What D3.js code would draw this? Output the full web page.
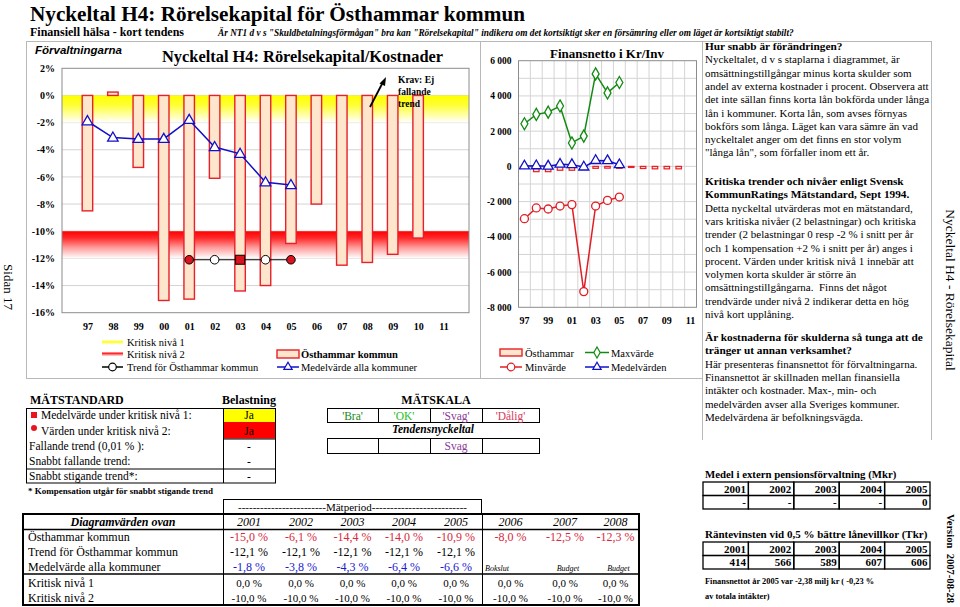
<!DOCTYPE html>
<html>
<head>
<meta charset="utf-8">
<script src="https://cdn.jsdelivr.net/npm/d3@7/dist/d3.min.js"></script>
<style>
html,body{margin:0;padding:0;background:#fff;}
svg{display:block;}
</style>
</head>
<body>
<script>
// ---------------- DATA ----------------
const years = ["97","98","99","00","01","02","03","04","05","06","07","08","09","10","11"];
const rorelsekapital = [-8.5, 0.25, -5.3, -15.1, -15.0, -6.1, -14.4, -14.0, -10.9, -8.0, -12.5, -12.3, -11.7, -10.5, null];
const medelAllaKommuner = [-1.9, -3.1, -3.2, -3.2, -1.8, -3.8, -4.3, -6.4, -6.6, null, null, null, null, null, null];
const trendOsthammar = [null, null, null, null, -12.1, -12.1, -12.1, -12.1, -12.1, null, null, null, null, null, null];
const trendBelastning = [null, null, null, null, "niva2", "ingen", "niva1", "ingen", "niva2", null, null, null, null, null, null];
const kritiskNiva1 = 0;
const kritiskNiva2 = -10;
const pctTicks = [2, 0, -2, -4, -6, -8, -10, -12, -14, -16];

const finOsthammar = [-30, -300, -300, -220, -220, -160, -110, -100, -110, -60, -120, -140, -140, -140, null];
const finMax = [2420, 2950, 3080, 3430, 1330, 1720, 5250, 4170, 4760, null, null, null, null, null, null];
const finMin = [-2970, -2360, -2420, -2250, -2170, -7110, -2250, -1930, -1740, null, null, null, null, null, null];
const finMedel = [20, 30, 10, 120, 100, -40, 330, 320, 90, null, null, null, null, null, null];
const finTicks = [6000, 4000, 2000, 0, -2000, -4000, -6000, -8000];
const finLabelYears = ["97","99","01","03","05","07","09","11"];

const tableYears = ["2001","2002","2003","2004","2005","2006","2007","2008"];
const tableTypes = ["Bokslut","Budget","Budget"];
const pensionYears = ["2001","2002","2003","2004","2005"];
const pensionMedel = ["-","-","-","-","0"];
const rantevinst = [414, 566, 589, 607, 606];
const skalaLabels = ["'Bra'","'OK'","'Svag'","'Dålig'"];
const tendens = ["", "", "Svag", ""];
const matstandardRows = ["Medelvärde under kritisk nivå 1:", "Värden under kritisk nivå 2:", "Fallande trend (0,01 % ):", "Snabbt fallande trend:", "Snabbt stigande trend*:"];
const belastning = ["Ja", "Ja", "-", "-", "-"];

// ---------------- SETUP ----------------
const SERIF = '"Liberation Serif","Times New Roman",serif';
const SANS = '"Liberation Sans",Arial,sans-serif';
const svg = d3.select("body").append("svg").attr("width", 960).attr("height", 607);
const defs = svg.append("defs");
function vgrad(id, stops) {
  const g = defs.append("linearGradient").attr("id", id).attr("x1", 0).attr("y1", 0).attr("x2", 0).attr("y2", 1);
  stops.forEach(s => g.append("stop").attr("offset", s[0]).attr("stop-color", s[1]));
}
vgrad("gY", [[0, "#ffff00"], [0.35, "#ffff33"], [1, "#ffffff"]]);
vgrad("gR", [[0, "#ff0000"], [0.25, "#ff2a2a"], [0.6, "#ff9a9a"], [1, "#ffffff"]]);

function txt(x, y, s, o = {}) {
  const t = svg.append("text").attr("x", x).attr("y", y).text(s)
    .attr("font-family", o.family || SERIF)
    .attr("font-size", o.size || 12)
    .attr("font-weight", o.bold ? "bold" : "normal")
    .attr("font-style", o.italic ? "italic" : "normal")
    .attr("fill", o.fill || "#000")
    .attr("text-anchor", o.anchor || "start");
  if (o.rotate) t.attr("transform", `rotate(${o.rotate},${x},${y})`);
  return t;
}
function line(x1, y1, x2, y2, c, w) {
  return svg.append("line").attr("x1", x1).attr("y1", y1).attr("x2", x2).attr("y2", y2)
    .attr("stroke", c || "#000").attr("stroke-width", w || 1);
}
const fmtPct = v => d3.format(".1f")(v).replace(".", ",").replace("−", "-") + " %";
const loc = d3.formatLocale({decimal: ",", thousands: " ", grouping: [3], currency: ["", ""], minus: "-"});
const fmtKr = loc.format(",");

// ---------------- HEADER ----------------
txt(30, 21, "Nyckeltal H4: Rörelsekapital för Östhammar kommun", {size: 21.2, bold: true});
txt(30, 36, "Finansiell hälsa - kort tendens", {size: 12, bold: true});
txt(218, 36, "Är NT1 d v s \"Skuldbetalningsförmågan\" bra kan \"Rörelsekapital\" indikera om det kortsiktigt sker en försämring eller om läget är kortsiktigt stabilt?", {size: 9.3, bold: true, italic: true});

// frames
const FR = "#b8b8b8";
line(26, 41.5, 932, 41.5, FR);
line(26.5, 41, 26.5, 378, FR);
line(26, 378.5, 702, 378.5, FR);
line(480.5, 41, 480.5, 378, FR);
line(702.5, 41, 702.5, 440, FR);
line(931.5, 41, 931.5, 440, FR);

// rotated side texts
txt(4, 287, "Sidan 17", {size: 13, anchor: "middle", rotate: 90});
txt(946, 290, "Nyckeltal H4 - Rörelsekapital", {size: 13.5, anchor: "middle", rotate: 90});
txt(947, 514, "Version  2007-08-28", {size: 10.6, bold: true, rotate: 90}).attr("xml:space", "preserve");

// ---------------- LEFT CHART ----------------
const L = {x0: 62, x1: 469, y0: 68.3, y1: 312.7};
const xL = d3.scalePoint().domain(years).range([L.x0, L.x1]).padding(1);
const yL = d3.scaleLinear().domain([-16, 2]).range([L.y1, L.y0]);

txt(35, 54, "Förvaltningarna", {family: SANS, size: 11.5, bold: true, italic: true});
txt(162, 62, "Nyckeltal H4: Rörelsekapital/Kostnader", {size: 16.4, bold: true});

svg.append("rect").attr("x", L.x0).attr("y", L.y0).attr("width", L.x1 - L.x0).attr("height", L.y1 - L.y0).attr("fill", "#fff");
const gL = svg.append("g");
gL.selectAll("line.grid").data(pctTicks.filter(d => d > -16 && d < 2)).enter().append("line")
  .attr("x1", L.x0).attr("x2", L.x1).attr("y1", d => yL(d)).attr("y2", d => yL(d))
  .attr("stroke", "#d4d4d4").attr("stroke-width", 1);
gL.append("rect").attr("x", L.x0).attr("width", L.x1 - L.x0)
  .attr("y", yL(kritiskNiva1)).attr("height", yL(kritiskNiva1 - 2) - yL(kritiskNiva1)).attr("fill", "url(#gY)");
gL.append("rect").attr("x", L.x0).attr("width", L.x1 - L.x0)
  .attr("y", yL(kritiskNiva2)).attr("height", yL(kritiskNiva2 - 2) - yL(kritiskNiva2)).attr("fill", "url(#gR)");
svg.append("rect").attr("x", L.x0).attr("y", L.y0).attr("width", L.x1 - L.x0).attr("height", L.y1 - L.y0)
  .attr("fill", "none").attr("stroke", "#8c8c8c").attr("stroke-width", 1);

const barW = 10.5;
gL.selectAll("rect.bar").data(years.map((y, i) => ({y, v: rorelsekapital[i]})).filter(d => d.v != null))
  .enter().append("rect")
  .attr("x", d => xL(d.y) - barW / 2).attr("width", barW)
  .attr("y", d => yL(Math.max(d.v, 0))).attr("height", d => Math.abs(yL(d.v) - yL(0)))
  .attr("fill", "#fde6cc").attr("stroke", "#e8202a").attr("stroke-width", 1.4);

const medelPts = years.map((y, i) => ({y, v: medelAllaKommuner[i]})).filter(d => d.v != null);
gL.append("path").datum(medelPts)
  .attr("d", d3.line().x(d => xL(d.y)).y(d => yL(d.v)))
  .attr("fill", "none").attr("stroke", "#1010c8").attr("stroke-width", 1.5);
gL.selectAll("path.tri").data(medelPts).enter().append("path")
  .attr("d", d3.symbol(d3.symbolTriangle, 48))
  .attr("transform", d => `translate(${xL(d.y)},${yL(d.v) + 0.5})`)
  .attr("fill", "#fff").attr("stroke", "#1010c8").attr("stroke-width", 1.3);

const trendPts = years.map((y, i) => ({y, v: trendOsthammar[i], k: trendBelastning[i]})).filter(d => d.v != null);
gL.append("path").datum(trendPts)
  .attr("d", d3.line().x(d => xL(d.y)).y(d => yL(d.v)))
  .attr("fill", "none").attr("stroke", "#000").attr("stroke-width", 1.2);
trendPts.forEach(d => {
  if (d.k === "niva1") {
    gL.append("rect").attr("x", xL(d.y) - 4.5).attr("y", yL(d.v) - 4.5).attr("width", 9).attr("height", 9)
      .attr("fill", "#d8141e").attr("stroke", "#000").attr("stroke-width", 1);
  } else {
    gL.append("circle").attr("cx", xL(d.y)).attr("cy", yL(d.v)).attr("r", 4.3)
      .attr("fill", d.k === "niva2" ? "#d8141e" : "#fff").attr("stroke", "#000").attr("stroke-width", 1);
  }
});

// axes
const axL = svg.append("g").attr("transform", `translate(${L.x0},0)`)
  .call(d3.axisLeft(yL).tickValues(pctTicks).tickSize(0).tickPadding(7).tickFormat(d => d3.format("d")(d).replace("−", "-") + "%"));
axL.select(".domain").remove();
axL.selectAll("text").attr("font-family", SERIF).attr("font-size", 10).attr("font-weight", "bold");
const axLb = svg.append("g").attr("transform", `translate(0,${L.y1})`)
  .call(d3.axisBottom(xL).tickSize(0).tickPadding(10));
axLb.select(".domain").remove();
axLb.selectAll("text").attr("font-family", SERIF).attr("font-size", 10).attr("font-weight", "bold");

// annotation
txt(398, 83, "Krav: Ej", {size: 9.5, bold: true});
txt(398, 95, "fallande", {size: 9.5, bold: true});
txt(398, 107, "trend", {size: 9.5, bold: true});
line(370, 107, 382, 84, "#000", 1.8);
svg.append("path").attr("d", "M386,77 L379.5,83.5 L385,86 Z").attr("fill", "#000");

// legend left
svg.append("line").attr("x1", 102).attr("x2", 123).attr("y1", 342).attr("y2", 342).attr("stroke", "#ffff40").attr("stroke-width", 3);
txt(127, 345.5, "Kritisk nivå 1", {size: 10.5});
svg.append("rect").attr("x", 102).attr("y", 352.5).attr("width", 21).attr("height", 4).attr("fill", "url(#gR)");
txt(127, 358, "Kritisk nivå 2", {size: 10.5});
line(102, 367, 123, 367, "#000", 1.5);
svg.append("circle").attr("cx", 112.5).attr("cy", 367).attr("r", 3.8).attr("fill", "#fff").attr("stroke", "#000").attr("stroke-width", 1.2);
txt(127, 370.5, "Trend för Östhammar kommun", {size: 10.5});
svg.append("rect").attr("x", 277).attr("y", 350).attr("width", 22).attr("height", 8).attr("fill", "#fde6cc").attr("stroke", "#e8202a").attr("stroke-width", 1.4);
txt(301, 358, "Östhammar kommun", {size: 10.5, bold: true});
line(277, 367, 299, 367, "#1010c8", 1.5);
svg.append("path").attr("d", d3.symbol(d3.symbolTriangle, 30)).attr("transform", "translate(288,367)").attr("fill", "#fff").attr("stroke", "#1010c8").attr("stroke-width", 1.2);
txt(301, 370.5, "Medelvärde alla kommuner", {size: 10.5});

// ---------------- RIGHT CHART ----------------
const R = {x0: 518.5, x1: 696.5, y0: 60.7, y1: 307.3};
const xR = d3.scaleBand().domain(years).range([R.x0, R.x1]);
const yR = d3.scaleLinear().domain([-8000, 6000]).range([R.y1, R.y0]);
txt(607, 58, "Finansnetto i Kr/Inv", {size: 13, bold: true, anchor: "middle"});
svg.append("rect").attr("x", R.x0).attr("y", R.y0).attr("width", R.x1 - R.x0).attr("height", R.y1 - R.y0).attr("fill", "#fff");
const gR = svg.append("g");
gR.selectAll("line.hg").data(d3.range(-7000, 6000, 1000)).enter().append("line")
  .attr("x1", R.x0).attr("x2", R.x1).attr("y1", d => yR(d)).attr("y2", d => yR(d))
  .attr("stroke", "#d4d4d4");
gR.selectAll("line.vg").data(years.slice(1)).enter().append("line")
  .attr("x1", d => xR(d)).attr("x2", d => xR(d)).attr("y1", R.y0).attr("y2", R.y1)
  .attr("stroke", "#d4d4d4");
svg.append("rect").attr("x", R.x0).attr("y", R.y0).attr("width", R.x1 - R.x0).attr("height", R.y1 - R.y0)
  .attr("fill", "none").attr("stroke", "#8c8c8c");
const bw = 5.5;
gR.selectAll("rect.b").data(years.map((y, i) => ({y, v: finOsthammar[i]})).filter(d => d.v != null))
  .enter().append("rect")
  .attr("x", d => xR(d.y) + xR.bandwidth() / 2 - bw / 2).attr("width", bw)
  .attr("y", d => yR(Math.max(0, d.v))).attr("height", d => Math.abs(yR(d.v) - yR(0)))
  .attr("fill", "#fde6cc").attr("stroke", "#e8202a").attr("stroke-width", 1.2);
function series(vals, color, sym, size) {
  const pts = years.map((y, i) => ({y, v: vals[i]})).filter(d => d.v != null);
  const cx = d => xR(d.y) + xR.bandwidth() / 2;
  gR.append("path").datum(pts).attr("d", d3.line().x(cx).y(d => yR(d.v)))
    .attr("fill", "none").attr("stroke", color).attr("stroke-width", 1.5);
  gR.selectAll(null).data(pts).enter().append("path")
    .attr("d", d3.symbol(sym, size))
    .attr("transform", d => `translate(${cx(d)},${yR(d.v)})`)
    .attr("fill", "#fff").attr("stroke", color).attr("stroke-width", 1.3);
}
series(finMax, "#108a10", d3.symbolDiamond, 42);
series(finMin, "#e01e26", d3.symbolCircle, 50);
series(finMedel, "#1010c8", d3.symbolTriangle, 44);

const axR = svg.append("g").attr("transform", `translate(${R.x0},0)`)
  .call(d3.axisLeft(yR).tickValues(finTicks).tickSize(0).tickPadding(7).tickFormat(fmtKr));
axR.select(".domain").remove();
axR.selectAll("text").attr("font-family", SERIF).attr("font-size", 9.5).attr("font-weight", "bold");
const axRb = svg.append("g").attr("transform", `translate(0,${R.y1})`)
  .call(d3.axisBottom(xR).tickValues(finLabelYears).tickSize(0).tickPadding(10));
axRb.select(".domain").remove();
axRb.selectAll("text").attr("font-family", SERIF).attr("font-size", 10).attr("font-weight", "bold");

// legend right
svg.append("rect").attr("x", 500).attr("y", 349).attr("width", 22).attr("height", 7).attr("fill", "#fde6cc").attr("stroke", "#e8202a").attr("stroke-width", 1.4);
txt(525, 356.5, "Östhammar", {size: 10.5});
line(585, 352.5, 609, 352.5, "#108a10", 1.5);
svg.append("path").attr("d", d3.symbol(d3.symbolDiamond, 34)).attr("transform", "translate(597,352.5)").attr("fill", "#fff").attr("stroke", "#108a10").attr("stroke-width", 1.2);
txt(611, 356.5, "Maxvärde", {size: 10.5});
line(500, 367, 522, 367, "#e01e26", 1.5);
svg.append("circle").attr("cx", 511).attr("cy", 367).attr("r", 3.8).attr("fill", "#fff").attr("stroke", "#e01e26").attr("stroke-width", 1.2);
txt(525, 370.5, "Minvärde", {size: 10.5});
line(585, 367, 609, 367, "#1010c8", 1.5);
svg.append("path").attr("d", d3.symbol(d3.symbolTriangle, 30)).attr("transform", "translate(597,367)").attr("fill", "#fff").attr("stroke", "#1010c8").attr("stroke-width", 1.2);
txt(611, 370.5, "Medelvärden", {size: 10.5});

// ---------------- RIGHT TEXT ----------------
const LH = 13.3;
const para1 = ["Nyckeltalet, d v s staplarna i diagrammet, är", "omsättningstillgångar minus korta skulder som", "andel av externa kostnader i procent. Observera att", "det inte sällan finns korta lån bokförda under långa", "lån i kommuner. Korta lån, som avses förnyas", "bokförs som långa. Läget kan vara sämre än vad", "nyckeltalet anger om det finns en stor volym", "\"långa lån\", som förfaller inom ett år."];
const para2 = ["Detta nyckeltal utvärderas mot en mätstandard,", "vars kritiska nivåer (2 belastningar) och kritiska", "trender (2 belastningar 0 resp -2 % i snitt per år", "och 1 kompensation +2 % i snitt per år) anges i", "procent. Värden under kritisk nivå 1 innebär att", "volymen korta skulder är större än", "omsättningstillgångarna.  Finns det något", "trendvärde under nivå 2 indikerar detta en hög", "nivå kort upplåning."];
const para3 = ["Här presenteras finansnettot för förvaltningarna.", "Finansnettot är skillnaden mellan finansiella", "intäkter och kostnader. Max-, min- och", "medelvärden avser alla Sveriges kommuner.", "Medelvärdena är befolkningsvägda."];
function para(y, heads, lines) {
  heads.forEach((h, i) => txt(705, y + i * LH, h, {size: 11.3, bold: true}).attr("xml:space", "preserve"));
  lines.forEach((l, i) => txt(705, y + (heads.length + i) * LH, l, {size: 11}).attr("xml:space", "preserve"));
}
para(50, ["Hur snabb är förändringen?"], para1);
para(185, ["Kritiska trender och nivåer enligt Svensk", "KommunRatings Mätstandard, Sept 1994."], para2);
para(341, ["Är kostnaderna för skulderna så tunga att de", "tränger ut annan verksamhet?"], para3);

// ---------------- MÄTSTANDARD ----------------
txt(30, 404, "MÄTSTANDARD", {size: 12, bold: true});
txt(249, 404, "Belastning", {size: 12, bold: true, anchor: "middle"});
const MS = {x0: 26, xm: 223, x1: 275, y0: 408.5, rows: [408.5, 422, 438.5, 453.5, 468.5, 483]};
svg.append("rect").attr("x", MS.xm).attr("y", MS.rows[0]).attr("width", MS.x1 - MS.xm).attr("height", MS.rows[1] - MS.rows[0]).attr("fill", "#ffff00");
svg.append("rect").attr("x", MS.xm).attr("y", MS.rows[1]).attr("width", MS.x1 - MS.xm).attr("height", MS.rows[2] - MS.rows[1]).attr("fill", "#ff0000");
svg.append("rect").attr("x", MS.x0 + 0.5).attr("y", MS.y0).attr("width", MS.x1 - MS.x0).attr("height", MS.rows[5] - MS.rows[0]).attr("fill", "none").attr("stroke", "#000");
line(MS.xm + 0.5, MS.rows[0], MS.xm + 0.5, MS.rows[5], "#000");
line(MS.x0, MS.rows[4] + 0.5, MS.x1, MS.rows[4] + 0.5, "#000");
line(MS.xm, MS.rows[2] + 0.5, MS.x1, MS.rows[2] + 0.5, "#000");
svg.append("rect").attr("x", 31).attr("y", 412).attr("width", 6).attr("height", 6).attr("fill", "#e8141e");
svg.append("circle").attr("cx", 34).attr("cy", 428).attr("r", 3).attr("fill", "#e8141e");
matstandardRows.forEach((r, i) => {
  const yb = MS.rows[i + 1] - 3.5;
  txt(i < 2 ? 41 : 29, yb, r, {size: 11.5});
  txt((MS.xm + MS.x1) / 2, yb, belastning[i], {size: 11.5, anchor: "middle"});
});
txt(28, 494, "* Kompensation utgår för snabbt stigande trend", {size: 9, bold: true});

// ---------------- MÄTSKALA ----------------
const skX = [327, 378, 430, 482, 539];
const skColors = ["#178a17", "#22c022", "#8a3a9a", "#d63a5a"];
txt(436, 404, "MÄTSKALA", {size: 12, bold: true, anchor: "middle"});
for (let i = 0; i < 4; i++) {
  svg.append("rect").attr("x", skX[i] + 0.5).attr("y", 408.5).attr("width", skX[i + 1] - skX[i]).attr("height", 14).attr("fill", "none").attr("stroke", "#000");
  txt((skX[i] + skX[i + 1]) / 2, 419.5, skalaLabels[i], {size: 11.5, anchor: "middle", fill: skColors[i]});
  svg.append("rect").attr("x", skX[i] + 0.5).attr("y", 438.5).attr("width", skX[i + 1] - skX[i]).attr("height", 15).attr("fill", "none").attr("stroke", "#000");
  if (tendens[i]) txt((skX[i] + skX[i + 1]) / 2, 450, tendens[i], {size: 11.5, anchor: "middle", fill: skColors[2]});
}
txt(433, 433, "Tendensnyckeltal", {size: 11.5, bold: true, italic: true, anchor: "middle"});

// ---------------- BOTTOM TABLE ----------------
const colX = [223, 275, 327, 378, 430, 482, 539, 591, 640];
const colC = i => (colX[i] + colX[i + 1]) / 2;
svg.append("rect").attr("x", 223.5).attr("y", 499.5).attr("width", 258).attr("height", 14).attr("fill", "none").attr("stroke", "#000");
txt(352.5, 510.5, "------------------------Mätperiod--------------------------", {size: 11, anchor: "middle"});
svg.append("rect").attr("x", 23).attr("y", 514).attr("width", 616).attr("height", 91).attr("fill", "none").attr("stroke", "#000").attr("stroke-width", 2);
line(22, 529.5, 640, 529.5, "#000", 1.5);
line(22, 574, 640, 574, "#000", 1.5);
line(223.5, 514, 223.5, 606, "#000", 1);
line(482.5, 514, 482.5, 606, "#000", 1);
txt(123, 526, "Diagramvärden ovan", {size: 12, bold: true, italic: true, anchor: "middle"});
tableYears.forEach((y, i) => txt(colC(i), 526, y, {size: 12, italic: true, anchor: "middle"}));
const rowLab = ["Östhammar kommun", "Trend för Östhammar kommun", "Medelvärde alla kommuner", "Kritisk nivå 1", "Kritisk nivå 2"];
const rowY = [541, 556, 570.5, 587, 601.5];
rowLab.forEach((l, i) => txt(28, rowY[i], l, {size: 12}));
const idx01 = years.indexOf("01");
tableYears.forEach((y, i) => {
  const k = idx01 + i;
  txt(colC(i), rowY[0], fmtPct(rorelsekapital[k]), {size: 12, anchor: "middle", fill: "#d8283c"});
  if (trendOsthammar[k] != null) txt(colC(i), rowY[1], fmtPct(trendOsthammar[k]), {size: 12, anchor: "middle"});
  if (medelAllaKommuner[k] != null) txt(colC(i), rowY[2], fmtPct(medelAllaKommuner[k]), {size: 12, anchor: "middle", fill: "#1a1ad0"});
  txt(colC(i), rowY[3], fmtPct(kritiskNiva1), {size: 11, anchor: "middle"});
  txt(colC(i), rowY[4], fmtPct(kritiskNiva2), {size: 11, anchor: "middle"});
});
tableTypes.forEach((t, i) => {
  if (i === 0) txt(colX[5] + 3, rowY[2], t, {size: 8, italic: true});
  else txt(colC(5 + i) + 3, rowY[2], t, {size: 8, italic: true, anchor: "middle"});
});

// ---------------- RIGHT TABLES ----------------
function smallTable(y0, head, vals) {
  const x0 = 703, cw = 45.4, rh = 13.5;
  for (let r = 0; r < 2; r++) {
    for (let c = 0; c < 5; c++) {
      svg.append("rect").attr("x", x0 + c * cw).attr("y", y0 + r * rh).attr("width", cw).attr("height", rh)
        .attr("fill", "none").attr("stroke", "#000").attr("stroke-width", 1.3);
      txt(x0 + (c + 1) * cw - 2.5, y0 + r * rh + 10.5, r === 0 ? head[c] : String(vals[c]), {size: 11, bold: true, anchor: "end"});
    }
  }
}
txt(705, 478, "Medel i extern pensionsförvaltning (Mkr)", {size: 10.8, bold: true});
smallTable(482, pensionYears, pensionMedel);
txt(705, 538, "Räntevinsten vid 0,5 % bättre lånevillkor (Tkr)", {size: 11, bold: true});
smallTable(542, pensionYears, rantevinst);
txt(705, 584, "Finansnettot år 2005 var -2,38 milj kr ( -0,23 %", {size: 8.4, bold: true});
txt(705, 599, "av totala intäkter)", {size: 8.4, bold: true});
</script>
</body>
</html>
